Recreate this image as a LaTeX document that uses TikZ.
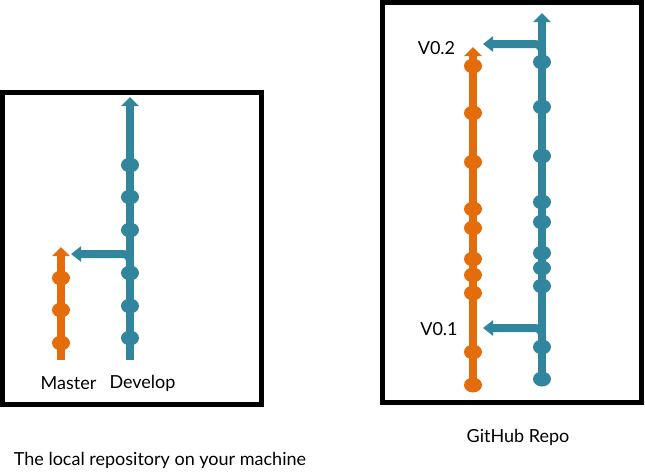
\documentclass[tikz,border=0pt]{standalone}
\usepackage{fontspec}
\setmainfont{Lato}
\usetikzlibrary{arrows.meta}
\definecolor{gitorange}{HTML}{E46C0A}
\definecolor{gitblue}{HTML}{31859C}
\tikzset{
  branch/.style={line width=8pt},
  headed/.style={branch,-{Triangle[width=17pt,length=9pt]}},
  merge/.style={branch,rounded corners=7pt,-{Triangle[width=15pt,length=10pt]}},
  frame/.style={line width=5pt},
  caption/.style={inner sep=0pt,font=\fontsize{18}{20}\selectfont},
}
\begin{document}
\begin{tikzpicture}[x=1pt,y=-1pt]
  \useasboundingbox (0,0) rectangle (645,475);
  % local repository
  \draw[frame] (2.5,92.5) rectangle (261.5,404.5);
  \draw[headed,gitorange] (61,360) coordinate (m0) -- (61,247) coordinate (m1);
  \draw[headed,gitblue] (130,360) coordinate (d0) -- (130,97) coordinate (d1);
  \foreach \y in {278,310,343}
    \fill[gitorange] (61,\y) ellipse (9pt and 7.5pt);
  \foreach \y in {165,197,230,273,306,338}
    \fill[gitblue] (130,\y) ellipse (9pt and 7.5pt);
  \coordinate (mtip) at (71,254);
  \draw[merge,gitblue] (130,272) -- (130,254) -- (mtip);
  \node[caption] (master) at (68.5,383) {Master};
  \node[caption] (develop) at (142.5,383) {Develop};
  \node[caption] (local) at (160,460) {The local repository on your machine};
  % github repo
  \draw[frame] (382.5,2.5) rectangle (641.5,402.5);
  \draw[headed,gitorange] (473,385) coordinate (o0) -- (473,47) coordinate (o1);
  \draw[headed,gitblue] (542,379) coordinate (b0) -- (542,13) coordinate (b1);
  \foreach \y in {66,113,162,209,228,259,275,293,352,385}
    \fill[gitorange] (473,\y) ellipse (9pt and 7.5pt);
  \foreach \y in {62,107,156,202,222,253,268,286,347,379}
    \fill[gitblue] (542,\y) ellipse (9pt and 7.5pt);
  \coordinate (vtwotip) at (483,44);
  \coordinate (vonetip) at (483,328);
  \draw[merge,gitblue] (542,60) -- (542,44) -- (vtwotip);
  \draw[merge,gitblue] (542,344) -- (542,328) -- (vonetip);
  \node[caption] (vtwo) at (436.5,48) {V0.2};
  \node[caption] (vone) at (439,329) {V0.1};
  \node[caption] (github) at (518,437) {GitHub Repo};
\end{tikzpicture}
\end{document}
